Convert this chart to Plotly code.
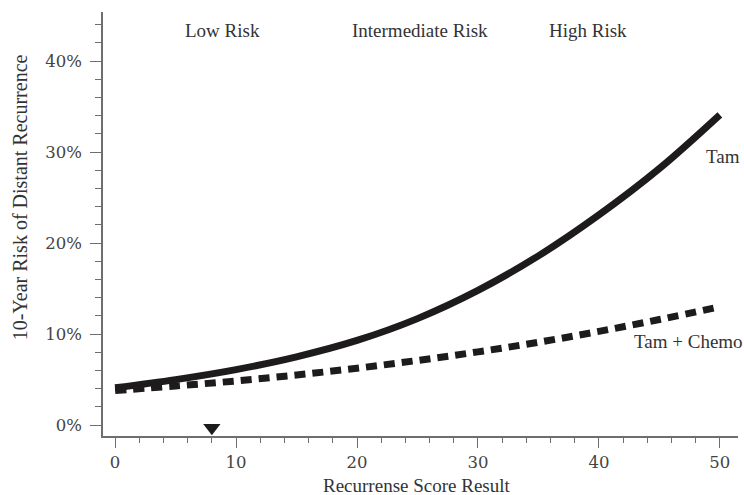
import plotly.graph_objects as go

# Data
score = [0, 5, 10, 15, 20, 25, 30, 35, 40, 45, 50]
tam = [4.1, 5.0, 6.1, 7.5, 9.3, 11.7, 14.8, 18.6, 23.1, 28.2, 34.1]
tam_chemo = [3.8, 4.3, 4.85, 5.5, 6.25, 7.1, 8.05, 9.1, 10.3, 11.6, 13.0]
patient_score = [8]
patient_marker_y = [-0.3]

risk_labels = ["Low Risk", "Intermediate Risk", "High Risk"]
risk_label_x = [8.85, 25.2, 39.1]
risk_label_y = 43.4

x_ticks = [0, 10, 20, 30, 40, 50]
y_ticks = [0, 10, 20, 30, 40]
y_tick_text = ["0%", "10%", "20%", "30%", "40%"]

LINE = "#1e1b1c"
TEXT = "#333333"
AXIS = "#6e6e6e"
SERIF = "Liberation Serif, Times New Roman, serif"
TICKFONT = dict(family="DejaVu Serif, serif", size=16.5, color="#444444")

fig = go.Figure()

fig.add_trace(go.Scatter(
    x=score, y=tam, mode="lines", line=dict(color=LINE, width=7, shape="spline"),
    showlegend=False, hoverinfo="skip"))
fig.add_trace(go.Scatter(
    x=score, y=tam_chemo, mode="lines",
    line=dict(color=LINE, width=7, shape="spline", dash="11px,7px"),
    showlegend=False, hoverinfo="skip"))
fig.add_trace(go.Scatter(
    x=patient_score, y=patient_marker_y, mode="markers",
    marker=dict(symbol="triangle-down", size=15, color=LINE),
    showlegend=False, hoverinfo="skip", cliponaxis=False))

for txt, xv in zip(risk_labels, risk_label_x):
    fig.add_annotation(x=xv, y=risk_label_y, text=txt, showarrow=False,
                       xanchor="center", yanchor="middle",
                       font=dict(family=SERIF, size=19, color=TEXT))

fig.add_annotation(x=50.3, y=29.5, text="Tam", showarrow=False,
                   xanchor="center", yanchor="middle",
                   font=dict(family=SERIF, size=19, color=TEXT))
fig.add_annotation(x=47.4, y=9.2, text="Tam + Chemo", showarrow=False,
                   xanchor="center", yanchor="middle",
                   font=dict(family=SERIF, size=19, color=TEXT))

# Axis titles
fig.add_annotation(xref="paper", yref="paper", x=-0.1307, y=0.563,
                   text="10-Year Risk of Distant Recurrence", textangle=-90,
                   showarrow=False, xanchor="center", yanchor="middle",
                   font=dict(family=SERIF, size=20, color=TEXT))
fig.add_annotation(xref="paper", yref="paper", x=0.493, y=-0.1156,
                   text="Recurrense Score Result",
                   showarrow=False, xanchor="center", yanchor="middle",
                   font=dict(family=SERIF, size=19, color=TEXT))

fig.update_layout(
    width=744, height=495,
    margin=dict(l=103, r=6, t=12, b=59),
    paper_bgcolor="white", plot_bgcolor="white",
    xaxis=dict(range=[-1, 51.5], tickvals=x_ticks, ticks="outside", ticklen=10,
               tickwidth=1.3, tickcolor=AXIS, showline=True, linecolor=AXIS,
               linewidth=1.5, showgrid=False, zeroline=False, tickfont=TICKFONT,
               minor=dict(dtick=2, tick0=0, ticks="outside", ticklen=5,
                          tickwidth=1.2, tickcolor=AXIS, showgrid=False)),
    yaxis=dict(range=[-1.2, 45.4], tickvals=y_ticks, ticktext=y_tick_text,
               ticks="outside", ticklen=11, tickwidth=1.3, tickcolor=AXIS,
               showline=True, linecolor=AXIS, linewidth=1.5, showgrid=False,
               zeroline=False, tickfont=TICKFONT, ticklabelstandoff=5,
               minor=dict(dtick=2, tick0=0, ticks="outside", ticklen=6,
                          tickwidth=1.2, tickcolor=AXIS, showgrid=False)),
)

fig.write_html("out.html",
               config={"displayModeBar": False},
               post_script="document.body.style.margin='0';"
                           "document.body.style.overflow='hidden';")
